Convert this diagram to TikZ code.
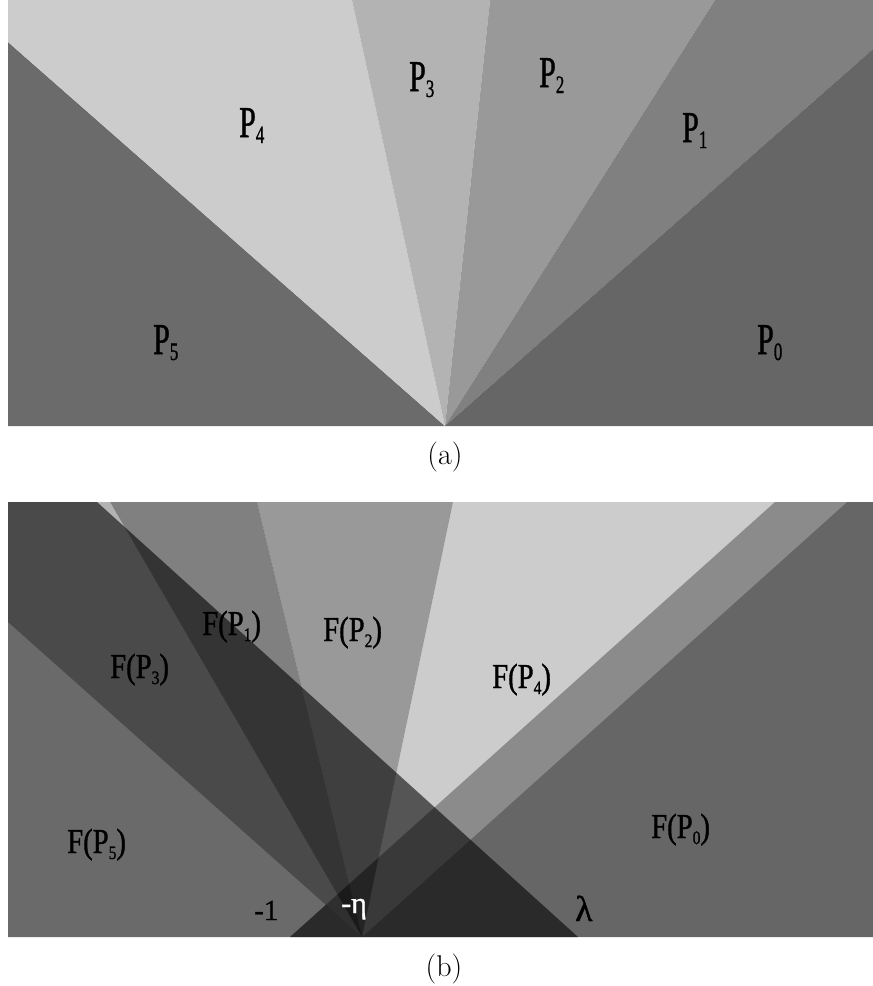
\documentclass[tikz,border=0pt]{standalone}
\usepackage{fontspec}
\usepackage{graphicx}
\newfontfamily\labfont[FakeBold=1.2]{Liberation Serif}
\definecolor{gP0}{RGB}{102,102,102}
\definecolor{gP1}{RGB}{128,128,128}
\definecolor{gP2}{RGB}{153,153,153}
\definecolor{gP3}{RGB}{179,179,179}
\definecolor{gP4}{RGB}{204,204,204}
\definecolor{gP5}{RGB}{107,107,107}
\definecolor{tP1}{RGB}{37,37,37}
\definecolor{tP2}{RGB}{80,80,80}
\definecolor{tP3}{RGB}{124,124,124}
\definecolor{tP4}{RGB}{167,167,167}
\newcommand\plabel[1]{\scalebox{0.68}[1]{\fontsize{44}{44}\selectfont P\raisebox{-6pt}{\fontsize{25}{25}\selectfont #1}}}
\newcommand\flabel[1]{\scalebox{0.82}[1]{\fontsize{35}{35}\selectfont F(P\raisebox{-6pt}{\fontsize{19}{19}\selectfont #1})}}
\begin{document}
\begin{tikzpicture}[x=1pt,y=-1pt,
  lab/.style={anchor=base west, inner sep=0pt, font=\labfont},
  captext/.style={anchor=base, inner sep=0pt, font=\fontsize{30}{30}\selectfont},
  cone/.style={fill opacity=0.582}]
\useasboundingbox (0,0) rectangle (873,986);
% ---------- panel (a) ----------
\coordinate (A) at (445,426);
\fill[gP5] (8,426) -- (A) -- (8,42) -- cycle;
\fill[gP4] (A) -- (8,42) -- (8,0) -- (352,0) -- cycle;
\fill[gP3] (A) -- (352,0) -- (490,0) -- cycle;
\fill[gP2] (A) -- (490,0) -- (715,0) -- cycle;
\fill[gP1] (A) -- (715,0) -- (873,0) -- (873,49) -- cycle;
\fill[gP0] (A) -- (873,49) -- (873,426) -- cycle;
\node[lab] (la4) at (239,137) {\plabel{4}};
\node[lab] (la3) at (409,91) {\plabel{3}};
\node[lab] (la2) at (539,87) {\plabel{2}};
\node[lab] (la1) at (682,142) {\plabel{1}};
\node[lab] (la5) at (153,354) {\plabel{5}};
\node[lab] (la0) at (757,354) {\plabel{0}};
\node[captext] (capa) at (445,464) {(a)};
% ---------- panel (b) ----------
\coordinate (M) at (290,937);
\coordinate (E) at (362,937);
\coordinate (L) at (578,937);
\fill[gP0] (M) -- (775,502) -- (873,502) -- (873,937) -- cycle;
\fill[tP4,cone] (E) -- (453,502) -- (847,502) -- cycle;
\fill[tP2,cone] (E) -- (257,502) -- (453,502) -- cycle;
\fill[tP1,cone] (E) -- (110,502) -- (257,502) -- cycle;
\fill[tP3,cone] (E) -- (8,622) -- (8,502) -- (110,502) -- cycle;
\fill[black,fill opacity=0.583] (L) -- (97,502) -- (8,502) -- (8,937) -- cycle;
\node[lab] (lb1) at (202,635) {\flabel{1}};
\node[lab] (lb2) at (323,641) {\flabel{2}};
\node[lab] (lb3) at (110,678) {\flabel{3}};
\node[lab] (lb4) at (492,688) {\flabel{4}};
\node[lab] (lb0) at (651,838) {\flabel{0}};
\node[lab] (lb5) at (67,853) {\flabel{5}};
\node[lab, font=\labfont\fontsize{29}{29}\selectfont] (lm1) at (254,920) {-1};
\node[lab, font=\labfont\fontsize{30}{30}\selectfont, text=white] (leta) at (341,913) {-η};
\node[lab, font=\labfont\fontsize{36}{36}\selectfont] (llam) at (575,921) {λ};
\node[captext] (capb) at (444,976) {(b)};
\end{tikzpicture}
\end{document}
